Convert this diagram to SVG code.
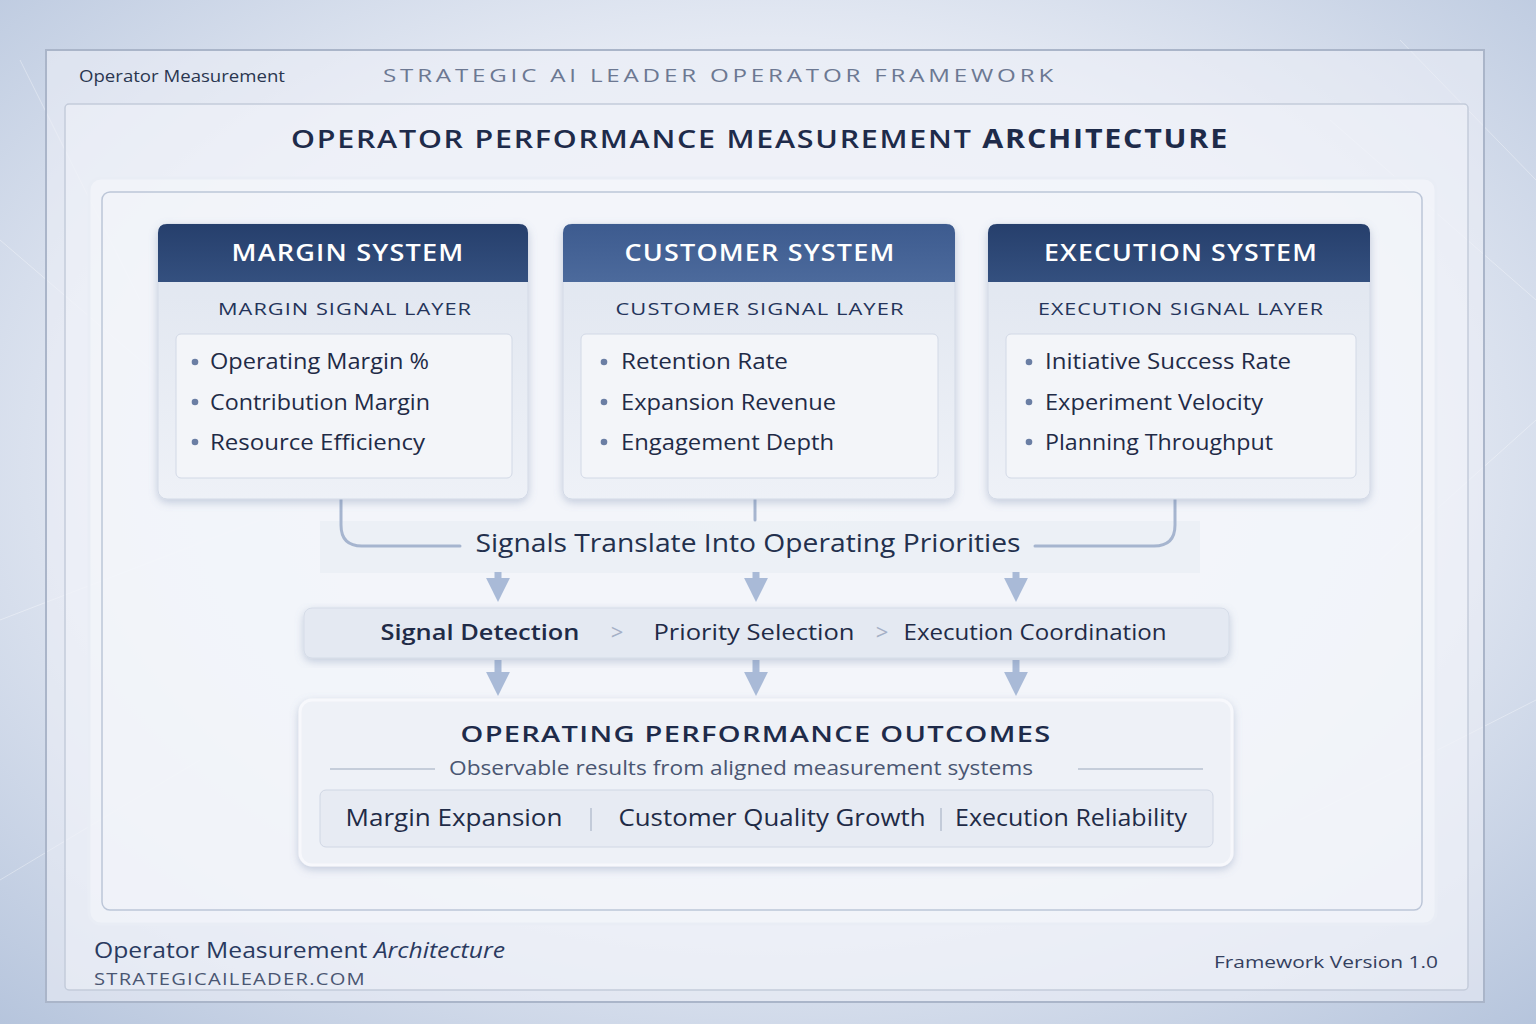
<svg xmlns="http://www.w3.org/2000/svg" width="1536" height="1024" viewBox="0 0 1536 1024">
<defs>
  <radialGradient id="bg" cx="0.5" cy="0.45" r="0.75">
    <stop offset="0" stop-color="#f3f5fa"/>
    <stop offset="0.55" stop-color="#e4e9f3"/>
    <stop offset="1" stop-color="#b5c4dc"/>
  </radialGradient>
  <linearGradient id="hdrDark" x1="0" y1="0" x2="0" y2="1">
    <stop offset="0" stop-color="#263f6c"/>
    <stop offset="1" stop-color="#34507f"/>
  </linearGradient>
  <linearGradient id="hdrMid" x1="0" y1="0" x2="0" y2="1">
    <stop offset="0" stop-color="#3d5b8f"/>
    <stop offset="1" stop-color="#4c6a9c"/>
  </linearGradient>
  <linearGradient id="card" x1="0" y1="0" x2="0" y2="1">
    <stop offset="0" stop-color="#dfe5ef"/>
    <stop offset="1" stop-color="#eef1f7"/>
  </linearGradient>
  <filter id="sh" x="-10%" y="-10%" width="120%" height="130%">
    <feDropShadow dx="0" dy="3" stdDeviation="4" flood-color="#6b7fa6" flood-opacity="0.35"/>
  </filter>
  <marker id="arr" viewBox="0 0 10 10" refX="5" refY="5" markerWidth="4.2" markerHeight="3.4" orient="auto">
    <path d="M0,0 L10,5 L0,10 z" fill="#a9bad7"/>
  </marker>
  <style>
    .f{font-family:"Open Sans",Lato,"Liberation Sans",sans-serif}
    .hdr{font-size:23px;fill:#ffffff;font-weight:600;text-anchor:middle;letter-spacing:1px}
    .sub{font-size:17px;fill:#24345a;text-anchor:middle;font-weight:500;letter-spacing:0.8px}
    .item{font-size:22px;fill:#1f2b47}
    .dot{fill:#6a7ea4}
    .listbox{fill:#f3f5f9;stroke:#d2d9e6;stroke-width:1}
    .conn{fill:none;stroke:#a6b5cf;stroke-width:3;stroke-linecap:round}
    .arrow{fill:none;stroke:#a9bad7;stroke-width:7}
    .proc{font-size:22px;fill:#1f2b47;text-anchor:middle}
    .chev{font-size:22px;fill:#a4b0c6;text-anchor:middle}
    .out{font-size:23px;fill:#1f2b47;text-anchor:middle}
  </style>
</defs>

<rect x="0" y="0" width="1536" height="1024" fill="url(#bg)"/>
<g opacity="0.35" stroke="#ffffff" stroke-width="1" fill="none">
  <path d="M0,240 L210,420 M20,60 L140,300 M0,620 L260,520 M1330,120 L1536,300 M1380,560 L1536,420 M1300,820 L1536,700 M0,880 L200,760 M1400,40 L1536,180"/>
</g>

<!-- outer frame -->
<rect x="46" y="50" width="1438" height="952" fill="#eef1f7" fill-opacity="0.55" stroke="#aab5c9" stroke-width="2"/>
<rect x="65" y="104" width="1403" height="886" rx="4" fill="#f2f4f9" fill-opacity="0.5" stroke="#c3cbda" stroke-width="1.5"/>

<g id="header">
  <text class="f" x="79" y="82" font-size="17" fill="#2a3650" textLength="206" lengthAdjust="spacingAndGlyphs">Operator Measurement</text>
  <text class="f" x="720" y="82" font-size="19" fill="#6c7892" text-anchor="middle" letter-spacing="3" textLength="674" lengthAdjust="spacingAndGlyphs">STRATEGIC AI LEADER OPERATOR FRAMEWORK</text>
  <text class="f" x="760" y="148" font-size="26" fill="#1e2b4a" text-anchor="middle" font-weight="600" letter-spacing="1.5" textLength="938" lengthAdjust="spacingAndGlyphs">OPERATOR PERFORMANCE MEASUREMENT <tspan font-weight="bold">ARCHITECTURE</tspan></text>
</g>

<!-- content panel -->
<rect x="89" y="178" width="1347" height="746" rx="12" fill="#f6f7fb" fill-opacity="0.55" stroke="#e9edf5" stroke-width="3"/>
<rect x="102" y="192" width="1320" height="718" rx="8" fill="none" stroke="#bcc6d8" stroke-width="1.5"/>

<!-- connectors -->
<g id="connectors">
  <rect x="320" y="521" width="880" height="52" fill="#dfe5ef" opacity="0.3"/>
  <path class="conn" d="M341,490 L341,525 Q341,546 362,546 L460,546"/>
  <path class="conn" d="M1035,546 L1154,546 Q1175,546 1175,525 L1175,490"/>
  <path class="conn" d="M755,492 L755,520"/>
  <path class="arrow" d="M498,572 L498,590" marker-end="url(#arr)"/>
  <path class="arrow" d="M756,572 L756,590" marker-end="url(#arr)"/>
  <path class="arrow" d="M1016,572 L1016,590" marker-end="url(#arr)"/>
  <path class="arrow" d="M498,660 L498,684" marker-end="url(#arr)"/>
  <path class="arrow" d="M756,660 L756,684" marker-end="url(#arr)"/>
  <path class="arrow" d="M1016,660 L1016,684" marker-end="url(#arr)"/>
</g>

<g id="margin-system">
  <rect x="158" y="224" width="370" height="275" rx="9" fill="url(#card)" stroke="#d3dae7" filter="url(#sh)"/>
  <path d="M158,282 L158,233 Q158,224 167,224 L519,224 Q528,224 528,233 L528,282 z" fill="url(#hdrDark)"/>
  <text class="f hdr" x="348" y="261" textLength="233" lengthAdjust="spacingAndGlyphs">MARGIN SYSTEM</text>
  <text class="f sub" x="345" y="315" textLength="254" lengthAdjust="spacingAndGlyphs">MARGIN SIGNAL LAYER</text>
  <rect class="listbox" x="176" y="334" width="336" height="144" rx="5"/>
  <circle class="dot" cx="195" cy="362" r="3.3"/><text class="f item" x="210" y="369" textLength="219" lengthAdjust="spacingAndGlyphs">Operating Margin %</text>
  <circle class="dot" cx="195" cy="402" r="3.3"/><text class="f item" x="210" y="410" textLength="220" lengthAdjust="spacingAndGlyphs">Contribution Margin</text>
  <circle class="dot" cx="195" cy="442" r="3.3"/><text class="f item" x="210" y="450" textLength="215" lengthAdjust="spacingAndGlyphs">Resource Efficiency</text>
</g>

<g id="customer-system">
  <rect x="563" y="224" width="392" height="275" rx="9" fill="url(#card)" stroke="#d3dae7" filter="url(#sh)"/>
  <path d="M563,282 L563,233 Q563,224 572,224 L946,224 Q955,224 955,233 L955,282 z" fill="url(#hdrMid)"/>
  <text class="f hdr" x="760" y="261" textLength="271" lengthAdjust="spacingAndGlyphs">CUSTOMER SYSTEM</text>
  <text class="f sub" x="760" y="315" textLength="289" lengthAdjust="spacingAndGlyphs">CUSTOMER SIGNAL LAYER</text>
  <rect class="listbox" x="581" y="334" width="357" height="144" rx="5"/>
  <circle class="dot" cx="604" cy="362" r="3.3"/><text class="f item" x="621" y="369" textLength="167" lengthAdjust="spacingAndGlyphs">Retention Rate</text>
  <circle class="dot" cx="604" cy="402" r="3.3"/><text class="f item" x="621" y="410" textLength="215" lengthAdjust="spacingAndGlyphs">Expansion Revenue</text>
  <circle class="dot" cx="604" cy="442" r="3.3"/><text class="f item" x="621" y="450" textLength="213" lengthAdjust="spacingAndGlyphs">Engagement Depth</text>
</g>

<g id="execution-system">
  <rect x="988" y="224" width="382" height="275" rx="9" fill="url(#card)" stroke="#d3dae7" filter="url(#sh)"/>
  <path d="M988,282 L988,233 Q988,224 997,224 L1361,224 Q1370,224 1370,233 L1370,282 z" fill="url(#hdrDark)"/>
  <text class="f hdr" x="1181" y="261" textLength="274" lengthAdjust="spacingAndGlyphs">EXECUTION SYSTEM</text>
  <text class="f sub" x="1181" y="315" textLength="286" lengthAdjust="spacingAndGlyphs">EXECUTION SIGNAL LAYER</text>
  <rect class="listbox" x="1006" y="334" width="350" height="144" rx="5"/>
  <circle class="dot" cx="1029" cy="362" r="3.3"/><text class="f item" x="1045" y="369" textLength="246" lengthAdjust="spacingAndGlyphs">Initiative Success Rate</text>
  <circle class="dot" cx="1029" cy="402" r="3.3"/><text class="f item" x="1045" y="410" textLength="218" lengthAdjust="spacingAndGlyphs">Experiment Velocity</text>
  <circle class="dot" cx="1029" cy="442" r="3.3"/><text class="f item" x="1045" y="450" textLength="228" lengthAdjust="spacingAndGlyphs">Planning Throughput</text>
</g>

<g id="signals-label">
  <text class="f" x="748" y="552" font-size="25" fill="#23304d" text-anchor="middle" textLength="545" lengthAdjust="spacingAndGlyphs">Signals Translate Into Operating Priorities</text>
</g>

<g id="process-bar">
  <rect x="304" y="608" width="925" height="50" rx="8" fill="#e4e9f2" stroke="#d5dce8" filter="url(#sh)"/>
  <text class="f proc" x="480" y="640" font-weight="600" textLength="199" lengthAdjust="spacingAndGlyphs">Signal Detection</text>
  <text class="f chev" x="617" y="640">&gt;</text>
  <text class="f proc" x="754" y="640" textLength="201" lengthAdjust="spacingAndGlyphs">Priority Selection</text>
  <text class="f chev" x="882" y="640">&gt;</text>
  <text class="f proc" x="1035" y="640" textLength="263" lengthAdjust="spacingAndGlyphs">Execution Coordination</text>
</g>

<g id="outcomes">
  <rect x="300" y="700" width="932" height="165" rx="12" fill="#eef1f7" stroke="#f7f8fc" stroke-width="3" filter="url(#sh)"/>
  <text class="f" x="756" y="742" font-size="22" fill="#1e2b4a" text-anchor="middle" font-weight="600" letter-spacing="1" textLength="591" lengthAdjust="spacingAndGlyphs">OPERATING PERFORMANCE OUTCOMES</text>
  <line x1="330" y1="769" x2="435" y2="769" stroke="#b7c0d0" stroke-width="1.5"/>
  <line x1="1078" y1="769" x2="1203" y2="769" stroke="#b7c0d0" stroke-width="1.5"/>
  <text class="f" x="741" y="775" font-size="20" fill="#4a5672" text-anchor="middle" textLength="584" lengthAdjust="spacingAndGlyphs">Observable results from aligned measurement systems</text>
  <rect x="320" y="790" width="893" height="57" rx="6" fill="#e7ebf3" stroke="#d0d7e4"/>
  <text class="f out" x="454" y="826" textLength="217" lengthAdjust="spacingAndGlyphs">Margin Expansion</text>
  <line x1="591" y1="808" x2="591" y2="831" stroke="#b7c0d0" stroke-width="1.5"/>
  <text class="f out" x="772" y="826" textLength="307" lengthAdjust="spacingAndGlyphs">Customer Quality Growth</text>
  <line x1="941" y1="808" x2="941" y2="831" stroke="#b7c0d0" stroke-width="1.5"/>
  <text class="f out" x="1071" y="826" textLength="232" lengthAdjust="spacingAndGlyphs">Execution Reliability</text>
</g>

<g id="footer">
  <text class="f" x="94" y="958" font-size="21" fill="#2a3a60" textLength="411" lengthAdjust="spacingAndGlyphs">Operator Measurement <tspan font-style="italic">Architecture</tspan></text>
  <text class="f" x="94" y="985" font-size="16" fill="#4a5672" letter-spacing="1" textLength="272" lengthAdjust="spacingAndGlyphs">STRATEGICAILEADER.COM</text>
  <text class="f" x="1438" y="968" font-size="17" fill="#34405e" text-anchor="end" textLength="224" lengthAdjust="spacingAndGlyphs">Framework Version 1.0</text>
</g>
</svg>
